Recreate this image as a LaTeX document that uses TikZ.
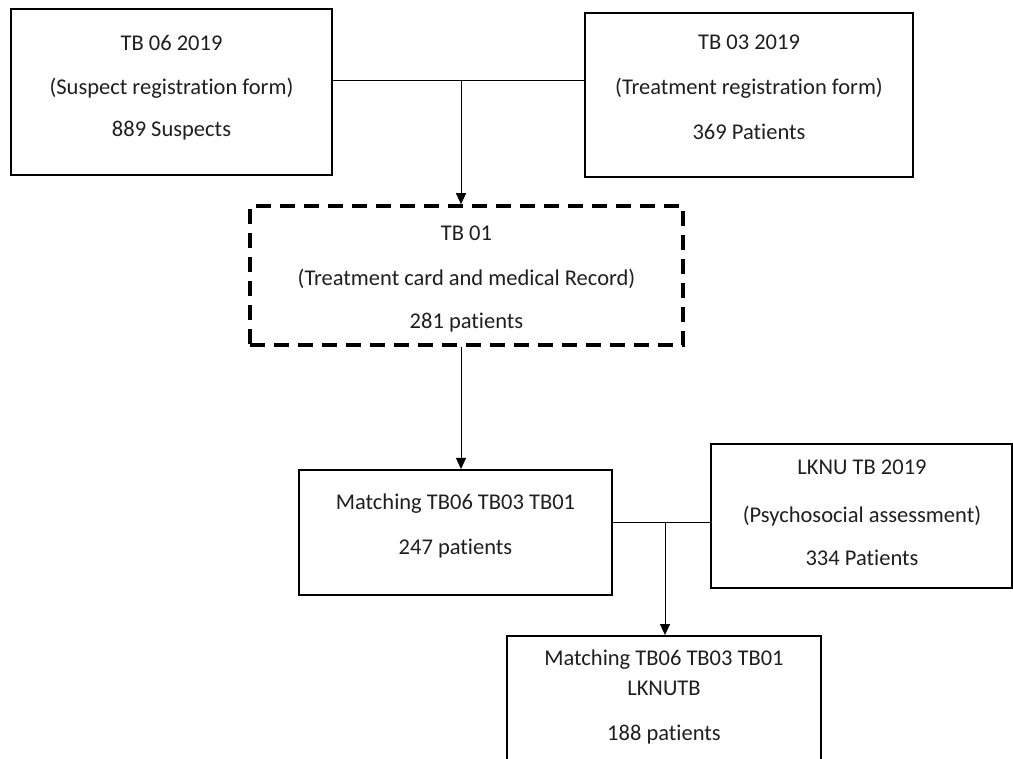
\documentclass[tikz,border=0pt]{standalone}
\usepackage{fontspec}
\setmainfont{Carlito}[Ligatures={NoCommon}]
\usetikzlibrary{arrows.meta}
\begin{document}
\begin{tikzpicture}[x=1pt,y=-1pt,
  box/.style={draw=black, line width=2pt, rectangle, inner sep=0pt},
  dashbox/.style={draw=black, line width=3.6pt, dash pattern=on 15pt off 9pt, rectangle, inner sep=0pt},
  txt/.style={anchor=base, inner sep=0pt, font=\fontsize{22.5}{27}\selectfont, text=black!88},
  conn/.style={draw=black, line width=1pt},
  arr/.style={conn, -{Triangle[length=11pt,width=10pt]}}]
\useasboundingbox (0,0) rectangle (1013,759);
\clip (0,0) rectangle (1013,759);
% boxes
\node[box, minimum width=321pt, minimum height=166pt] (b1) at (171.5,92) {};
\node[box, minimum width=328pt, minimum height=164pt] (b2) at (749,95) {};
\node[dashbox, minimum width=433pt, minimum height=139pt] (b3) at (466.5,275.5) {};
\node[box, minimum width=313pt, minimum height=125pt] (b4) at (455.5,532.5) {};
\node[box, minimum width=301pt, minimum height=144pt] (b5) at (861.5,516) {};
\node[box, minimum width=314pt, minimum height=164pt] (b6) at (664,718) {};
% texts
\node[txt] (t1a) at (171.5,50.5) {TB 06 2019};
\node[txt] (t1b) at (171.5,94.5) {(Suspect registration form)};
\node[txt] (t1c) at (171.5,136.5) {889 Suspects};
\node[txt] (t2a) at (749,49.5) {TB 03 2019};
\node[txt] (t2b) at (749,94.5) {(Treatment registration form)};
\node[txt] (t2c) at (749,139.5) {369 Patients};
\node[txt] (t3a) at (466.5,240.5) {TB 01};
\node[txt] (t3b) at (466.5,285.5) {(Treatment card and medical Record)};
\node[txt] (t3c) at (466.5,328.5) {281 patients};
\node[txt] (t4a) at (455.5,509.5) {Matching TB06 TB03 TB01};
\node[txt] (t4b) at (455.5,554.5) {247 patients};
\node[txt] (t5a) at (862,474.5) {LKNU TB 2019};
\node[txt] (t5b) at (862,522.5) {(Psychosocial assessment)};
\node[txt] (t5c) at (862,565.5) {334 Patients};
\node[txt] (t6a) at (664,665.5) {Matching TB06 TB03 TB01};
\node[txt] (t6b) at (664,695.5) {LKNUTB};
\node[txt] (t6c) at (664,740.5) {188 patients};
% connectors
\draw[conn] (b1.east |- 0,81) -- (b2.west |- 0,81);
\coordinate (j1) at (461,81);
\draw[arr] (j1) -- (j1 |- b3.north);
\draw[arr] (b3.south -| j1) -- (j1 |- b4.north);
\draw[conn] (b4.east |- 0,522) -- (b5.west |- 0,522);
\coordinate (j2) at (665,522);
\draw[arr] (j2) -- (j2 |- b6.north);
\end{tikzpicture}
\end{document}
